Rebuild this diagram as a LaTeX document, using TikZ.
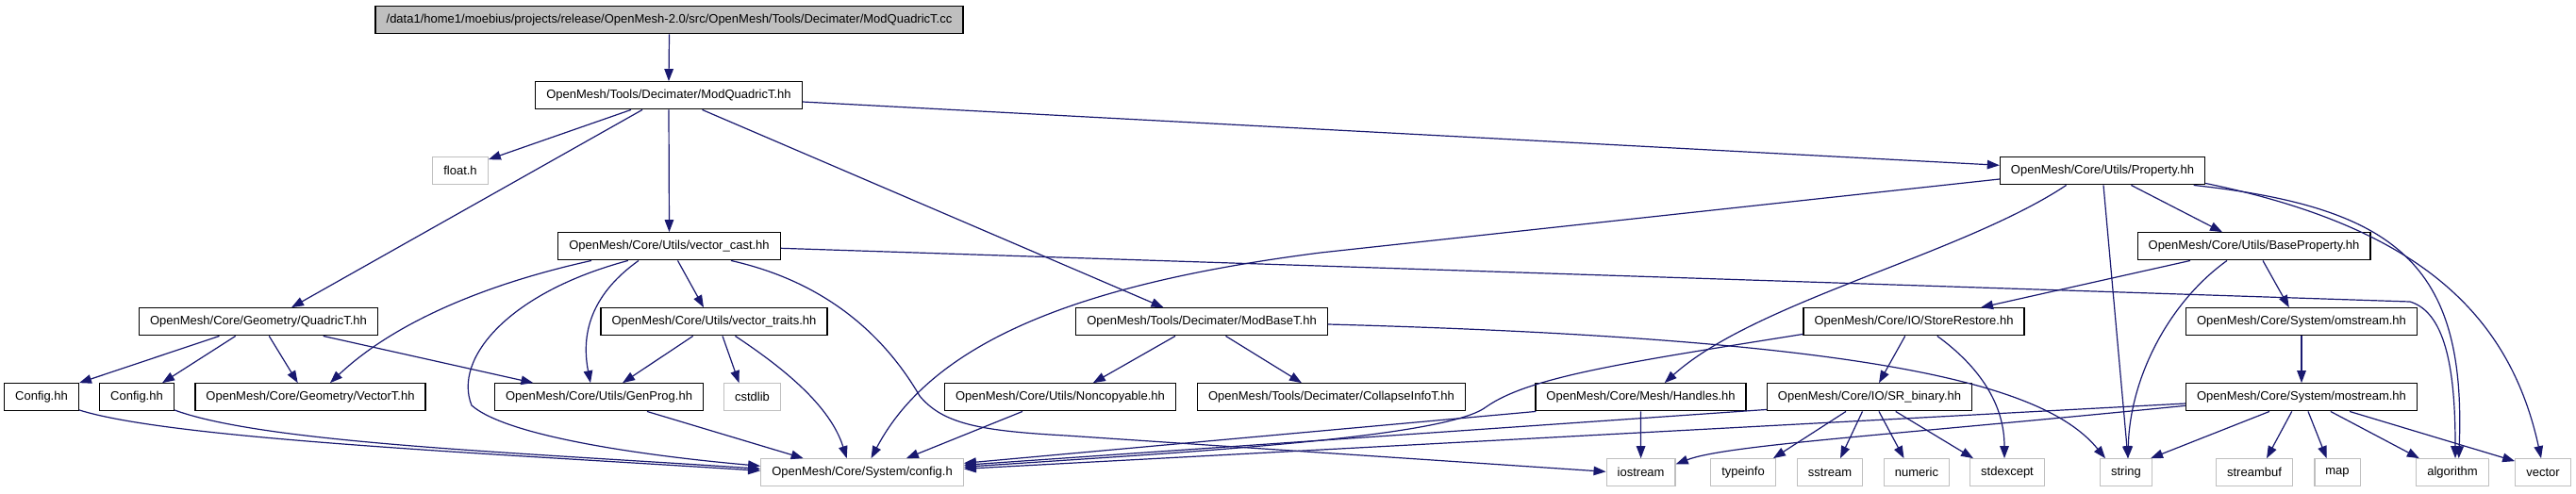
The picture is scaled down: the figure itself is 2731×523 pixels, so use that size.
\documentclass[tikz,border=0pt]{standalone}
\usepackage{fontspec}
\setmainfont{Liberation Sans}
\usetikzlibrary{arrows.meta}
\definecolor{edgeblue}{HTML}{191970}
\definecolor{sysgrey}{HTML}{BFBFBF}
\begin{document}
\begin{tikzpicture}[x=1pt,y=1pt,
  box/.style={draw=black, line width=1.3pt, minimum height=29pt, inner xsep=11.5pt, inner ysep=0pt, font=\fontsize{13}{15}\selectfont, anchor=center},
  sysbox/.style={box, draw=sysgrey},
  rootbox/.style={box, fill=sysgrey},
  dep/.style={draw=edgeblue, line width=1.2pt, -{Triangle[length=13pt,width=9.5pt]}}
]
\useasboundingbox (0,0) rectangle (2731,-523);
\fill[white] (0,0) rectangle (2731,-523);

\node[rootbox] (R) at (709.5,-21.3) {/data1/home1/moebius/projects/release/OpenMesh-2.0/src/OpenMesh/Tools/Decimater/ModQuadricT.cc};
\node[box] (MQ) at (709,-101.3) {OpenMesh/Tools/Decimater/ModQuadricT.hh};
\node[sysbox] (FH) at (488,-181.3) {float.h};
\node[box] (P) at (2229,-181.3) {OpenMesh/Core/Utils/Property.hh};
\node[box] (VC) at (709.5,-261.3) {OpenMesh/Core/Utils/vector\_cast.hh};
\node[box] (BP) at (2389.5,-261.3) {OpenMesh/Core/Utils/BaseProperty.hh};
\node[box] (Q) at (274,-341.3) {OpenMesh/Core/Geometry/QuadricT.hh};
\node[box] (VT) at (757,-341.3) {OpenMesh/Core/Utils/vector\_traits.hh};
\node[box] (MB) at (1274,-341.3) {OpenMesh/Tools/Decimater/ModBaseT.hh};
\node[box] (SR) at (2029,-341.3) {OpenMesh/Core/IO/StoreRestore.hh};
\node[box] (OM) at (2440,-341.3) {OpenMesh/Core/System/omstream.hh};
\node[box] (C1) at (44,-421.3) {Config.hh};
\node[box] (C2) at (145,-421.3) {Config.hh};
\node[box] (VEC) at (329,-421.3) {OpenMesh/Core/Geometry/VectorT.hh};
\node[box] (GP) at (635,-421.3) {OpenMesh/Core/Utils/GenProg.hh};
\node[sysbox] (CS) at (797.5,-421.3) {cstdlib};
\node[box] (NC) at (1124,-421.3) {OpenMesh/Core/Utils/Noncopyable.hh};
\node[box] (CI) at (1411.5,-421.3) {OpenMesh/Tools/Decimater/CollapseInfoT.hh};
\node[box] (H) at (1739.5,-421.3) {OpenMesh/Core/Mesh/Handles.hh};
\node[box] (SB) at (1982,-421.3) {OpenMesh/Core/IO/SR\_binary.hh};
\node[box] (MS) at (2440,-421.3) {OpenMesh/Core/System/mostream.hh};
\node[sysbox] (CH) at (914,-501.3) {OpenMesh/Core/System/config.h};
\node[sysbox] (IO) at (1739.6,-501.3) {iostream};
\node[sysbox] (TI) at (1848,-501.3) {typeinfo};
\node[sysbox] (SS) at (1940,-501.3) {sstream};
\node[sysbox] (NU) at (2032,-501.3) {numeric};
\node[sysbox] (SE) at (2128,-501.3) {stdexcept};
\node[sysbox] (ST) at (2254,-501.3) {string};
\node[sysbox] (SBF) at (2390,-501.3) {streambuf};
\node[sysbox] (MP) at (2478,-501.3) {map};
\node[sysbox] (AL) at (2600,-501.3) {algorithm};
\node[sysbox] (VE) at (2696,-501.3) {vector};

% ModQuadricT.cc
\draw[dep] (R.south) -- (MQ.north);
% ModQuadricT.hh
\draw[dep] ([xshift=-40pt]MQ.south) -- ([yshift=-3pt]FH.north east);
\draw[dep] ([xshift=-28pt]MQ.south) -- ([xshift=35pt]Q.north);
\draw[dep] (MQ.south) -- (VC.north);
\draw[dep] ([xshift=35.5pt]MQ.south) -- ([xshift=-40.5pt]MB.north);
\draw[dep] ([yshift=-6.7pt]MQ.east) -- ([yshift=6pt]P.west);
% Property.hh
\draw[dep] ([yshift=-8.7pt]P.west) -- (1400,-268) .. controls (1150,-300) and (990,-360) .. ([xshift=9.5pt]CH.north);
\draw[dep] ([xshift=-38.4pt]P.south) .. controls (2080,-270) and (1860,-320) .. ([xshift=25.2pt]H.north);
\draw[dep] ([xshift=1pt]P.south) -- ([xshift=2pt]ST.north);
\draw[dep] ([xshift=30.4pt]P.south) -- ([xshift=-33.5pt]BP.north);
\draw[dep] ([xshift=96.7pt]P.south) .. controls (2540,-220) and (2615,-280) .. ([xshift=6.7pt]AL.north);
\draw[dep] ([yshift=2pt]P.south east) .. controls (2560,-240) and (2660,-330) .. ([xshift=-2pt]VE.north);
% BaseProperty.hh
\draw[dep] ([xshift=-67.5pt]BP.south) -- ([xshift=71pt]SR.north);
\draw[dep] ([xshift=-28.5pt]BP.south) .. controls (2300,-320) and (2258,-400) .. ([xshift=2pt]ST.north);
\draw[dep] ([xshift=9.5pt]BP.south) -- ([xshift=-13.2pt]OM.north);
% vector_cast.hh
\draw[dep] ([xshift=-82.5pt]VC.south) .. controls (520,-300) and (420,-340) .. ([xshift=21pt]VEC.north);
\draw[dep] ([xshift=-43.7pt]VC.south) .. controls (540,-310) and (480,-380) .. (500,-430) .. controls (540,-465) and (700,-485) .. ([yshift=7pt]CH.west);
\draw[dep] ([xshift=-32.5pt]VC.south) .. controls (630,-310) and (615,-350) .. ([xshift=-9pt]GP.north);
\draw[dep] ([xshift=9pt]VC.south) -- ([xshift=-11pt]VT.north);
\draw[dep] ([xshift=65.5pt]VC.south) .. controls (880,-300) and (940,-360) .. (975,-420) .. controls (1000,-450) and (1040,-457) .. (1130,-462) -- ([yshift=1pt]IO.west);
\draw[dep] ([yshift=-2pt]VC.east) -- (2555,-320) .. controls (2595,-332) and (2603,-400) .. ([xshift=3pt]AL.north);
% QuadricT.hh
\draw[dep] ([xshift=-41.5pt]Q.south) -- (C1.north east);
\draw[dep] ([xshift=-24.3pt]Q.south) -- ([xshift=27pt]C2.north);
\draw[dep] ([xshift=11.3pt]Q.south) -- ([xshift=-13.3pt]VEC.north);
\draw[dep] ([xshift=68.7pt]Q.south) -- ([xshift=-69.6pt]GP.north);
% Config.hh
\draw[dep] ([yshift=1.5pt]C1.south east) .. controls (180,-465) and (500,-480) .. ([yshift=2pt]CH.west);
\draw[dep] ([yshift=1.5pt]C2.south east) .. controls (280,-470) and (550,-480) .. ([yshift=4pt]CH.west);
% vector_traits.hh
\draw[dep] ([xshift=-22.3pt]VT.south) -- ([xshift=25pt]GP.north);
\draw[dep] ([xshift=9pt]VT.south) -- ([xshift=-14pt]CS.north);
\draw[dep] ([xshift=22.5pt]VT.south) .. controls (830,-390) and (880,-430) .. ([xshift=-16.3pt]CH.north);
\draw[dep] ([xshift=51pt]GP.south) -- ([xshift=-62.3pt]CH.north);
% ModBaseT.hh
\draw[dep] ([xshift=-28pt]MB.south) -- ([xshift=34.8pt]NC.north);
\draw[dep] ([xshift=25.5pt]MB.south) -- ([xshift=-31.5pt]CI.north);
\draw[dep] ([yshift=-2.7pt]MB.east) .. controls (2000,-360) and (2170,-410) .. ([xshift=-22pt]ST.north);
\draw[dep] ([xshift=-40pt]NC.south) -- ([xshift=46.8pt]CH.north);
% Handles.hh
\draw[dep] (H.south) -- (IO.north);
\draw[dep] ([xshift=1pt]H.south west) -- ([yshift=10pt]CH.east);
% StoreRestore.hh
\draw[dep] ([yshift=2pt]SR.south west) .. controls (1720,-385) and (1620,-400) .. (1575,-432) .. controls (1530,-465) and (1250,-480) .. ([yshift=6pt]CH.east);
\draw[dep] ([xshift=-9.3pt]SR.south) -- ([xshift=10pt]SB.north);
\draw[dep] ([xshift=24.8pt]SR.south) .. controls (2100,-390) and (2125,-430) .. ([xshift=-3pt]SE.north);
% SR_binary.hh
\draw[dep] ([xshift=-25pt]SB.south) -- ([xshift=-3pt]TI.north east);
\draw[dep] ([xshift=-7.5pt]SB.south) -- ([xshift=11pt]SS.north);
\draw[dep] ([xshift=10pt]SB.south) -- ([xshift=-13.5pt]NU.north);
\draw[dep] ([xshift=27.7pt]SB.south) -- ([xshift=-36pt]SE.north);
\draw[dep] ([yshift=2pt]SB.south west) -- ([yshift=8pt]CH.east);
% omstream / mostream
\draw[dep] (OM.south) -- (MS.north);
\draw[dep] ([xshift=-34pt]MS.south) -- ([xshift=-2pt]ST.north east);
\draw[dep] ([xshift=-10.3pt]MS.south) -- ([xshift=13pt]SBF.north);
\draw[dep] ([xshift=7pt]MS.south) -- ([xshift=-11.3pt]MP.north);
\draw[dep] ([xshift=30.8pt]MS.south) -- ([xshift=-35.2pt]AL.north);
\draw[dep] ([xshift=51pt]MS.south) -- ([yshift=-3pt]VE.north west);
\draw[dep] ([yshift=-6.7pt]MS.west) -- ([yshift=4pt]CH.east);
\draw[dep] ([yshift=-9pt]MS.west) .. controls (2000,-462) and (1830,-472) .. ([yshift=9pt]IO.east);
\end{tikzpicture}
\end{document}
